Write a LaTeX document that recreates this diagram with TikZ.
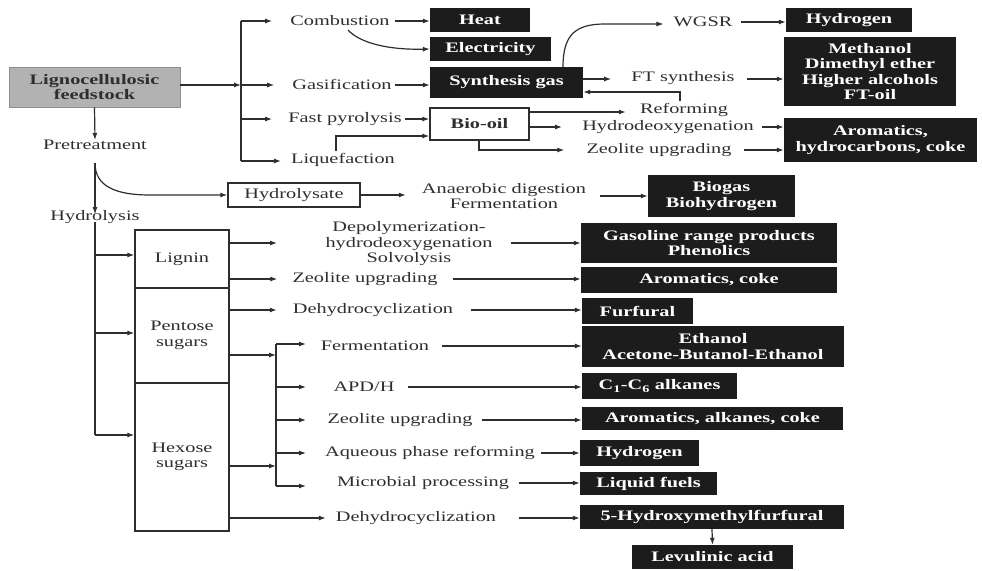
\documentclass[tikz,border=0pt]{standalone}
\usepackage{fontspec}
\setmainfont{Liberation Serif}[FakeStretch=1.4]
\usetikzlibrary{arrows.meta,calc}
\definecolor{ink}{HTML}{2E2E2E}
\definecolor{boxk}{HTML}{1C1C1C}
\definecolor{feedgray}{HTML}{B2B2B2}
\tikzset{
  txtfont/.style={font=\fontsize{14.5}{15.5}\selectfont},
  lbl/.style={txtfont, inner sep=0pt, text=ink, align=center},
  blk/.style={font=\bfseries\fontsize{14.5}{15.5}\selectfont, fill=boxk, draw=none, text=white, align=center, inner sep=0pt},
  wbox/.style={txtfont, draw=ink, line width=1.3pt, fill=white, text=ink, align=center, inner sep=0pt},
  graybox/.style={font=\bfseries\fontsize{14.5}{15.5}\selectfont, fill=feedgray, draw=feedgray!80!black, line width=0.6pt, text=ink, align=center, inner sep=0pt},
  arr/.style={-{Latex[length=7pt,width=5pt]}, line width=1.2pt, draw=ink},
  ln/.style={line width=1.2pt, draw=ink},
}
\begin{document}
\begin{tikzpicture}[x=1pt,y=-1pt]
\useasboundingbox (0,0) rectangle (982,570);

% ---------- boxes ----------
\node[graybox, minimum width=171pt, minimum height=40pt] (feed) at (94.5,87) {Lignocellulosic\\feedstock};
\node[blk, minimum width=100pt, minimum height=24pt] (heat) at (480,20) {Heat};
\node[blk, minimum width=121pt, minimum height=24pt] (elec) at (490.5,49) {Electricity};
\node[blk, minimum width=153pt, minimum height=31pt] (syn) at (506.5,82.5) {Synthesis gas};
\node[wbox, font=\bfseries\fontsize{14.5}{15.5}\selectfont, minimum width=99pt, minimum height=32pt] (biooil) at (479.5,124) {Bio-oil};
\node[blk, minimum width=126pt, minimum height=24pt] (h2a) at (849,20) {Hydrogen};
\node[blk, minimum width=172pt, minimum height=69pt] (meth) at (870,71.5) {Methanol\\Dimethyl ether\\Higher alcohols\\FT-oil};
\node[blk, minimum width=193pt, minimum height=44pt] (aroma1) at (880.5,140) {Aromatics,\\hydrocarbons, coke};
\node[wbox, minimum width=132pt, minimum height=24pt] (hydrolysate) at (294,195) {Hydrolysate};
\node[blk, minimum width=147pt, minimum height=42pt] (biogas) at (721.5,196) {Biogas\\Biohydrogen};
\node[blk, minimum width=256pt, minimum height=40pt] (gasoline) at (709,243) {Gasoline range products\\Phenolics};
\node[blk, minimum width=256pt, minimum height=26pt] (arcoke) at (709,280) {Aromatics, coke};
\node[blk, minimum width=111pt, minimum height=26pt] (furfural) at (637.5,311) {Furfural};
\node[blk, minimum width=262pt, minimum height=41pt] (ethanol) at (713,346.5) {Ethanol\\Acetone-Butanol-Ethanol};
\node[blk, minimum width=155pt, minimum height=26pt] (c1c6) at (659.5,386) {C\textsubscript{1}-C\textsubscript{6} alkanes};
\node[blk, minimum width=261pt, minimum height=23pt] (aralk) at (712.5,418.5) {Aromatics, alkanes, coke};
\node[blk, minimum width=119pt, minimum height=26pt] (h2b) at (639.5,453) {Hydrogen};
\node[blk, minimum width=137pt, minimum height=23pt] (liq) at (648.5,483.5) {Liquid fuels};
\node[blk, minimum width=264pt, minimum height=24pt] (hmf) at (712,517) {5-Hydroxymethylfurfural};
\node[blk, minimum width=161pt, minimum height=24pt] (lev) at (712.5,557) {Levulinic acid};

\node[wbox, minimum width=94pt, minimum height=58pt] (lignin) at (182,259) {Lignin};
\node[wbox, minimum width=94pt, minimum height=95pt] (pentose) at (182,335.5) {Pentose\\sugars};
\node[wbox, minimum width=94pt, minimum height=148pt] (hexose) at (182,457) {Hexose\\sugars};

% ---------- labels ----------
\node[lbl] (pret) at (95,145) {Pretreatment};
\node[lbl] (hydrol) at (95,217) {Hydrolysis};
\node[lbl] (comb) at (340,21) {Combustion};
\node[lbl] (gasif) at (342,84) {Gasification};
\node[lbl] (fastp) at (345,119) {Fast pyrolysis};
\node[lbl] (liqf) at (343,160) {Liquefaction};
\node[lbl] (wgsr) at (703,22) {WGSR};
\node[lbl] (ftsyn) at (683,78) {FT synthesis};
\node[lbl] (reform) at (684,110) {Reforming};
\node[lbl] (hdo) at (668,127) {Hydrodeoxygenation};
\node[lbl] (zeo1) at (659,150) {Zeolite upgrading};
\node[lbl] (anaer) at (504,196) {Anaerobic digestion\\Fermentation};
\node[lbl] (depoly) at (409,244) {Depolymerization-\\hydrodeoxygenation\\Solvolysis};
\node[lbl] (zeo2) at (365,279) {Zeolite upgrading};
\node[lbl] (dehyd1) at (373,310) {Dehydrocyclization};
\node[lbl] (ferm) at (375,346) {Fermentation};
\node[lbl] (apdh) at (364,387) {APD/H};
\node[lbl] (zeo3) at (400,420) {Zeolite upgrading};
\node[lbl] (aqu) at (430,453) {Aqueous phase reforming};
\node[lbl] (micro) at (423,483) {Microbial processing};
\node[lbl] (dehyd2) at (416,518) {Dehydrocyclization};

% ---------- junction coordinates ----------
\coordinate (j1) at (241,85);
\coordinate (t1) at (241,21);
\coordinate (t4) at (241,161);
\coordinate (c0) at (348,30);
\coordinate (p1) at (95,163);
\coordinate (hy0) at (95,435);
\coordinate (lq0) at (336,151);
\coordinate (lq1) at (336,136);
\coordinate (zb0) at (479,150);
\coordinate (rf0) at (680,101);
\coordinate (rf1) at (680,92);
\coordinate (w0) at (563,67);
\coordinate (b0) at (276,344);
\coordinate (b1) at (276,486);

% ---------- top connectors ----------
\draw[arr] (feed.east |- j1) -- (j1);
\draw[ln] (t1) -- (t4);
\draw[arr] (t1) -- ([xshift=-18pt]comb.west);
\draw[arr] (j1) -- ([xshift=-18pt]gasif.west |- j1);
\draw[arr] (j1 |- fastp) -- ([xshift=-16pt]fastp.west);
\draw[arr] (t4) -- ([xshift=-10pt]liqf.west |- t4);

\draw[arr] ([xshift=5pt]comb.east) -- (heat.west |- comb);
\draw[arr] (c0) .. controls (360,43) and (388,50) .. (elec.west);
\draw[arr] ([xshift=3pt]gasif.east |- j1) -- (syn.west |- j1);
\draw[arr] ([xshift=3pt]fastp.east) -- (biooil.west |- fastp);
\draw[arr] (lq0) -- (lq1) -- (biooil.west |- lq1);

\draw[arr] (w0) .. controls (563,35) and (575,24) .. (605,24) -- ([xshift=-10pt]wgsr.west |- 0,24);
\draw[arr] ([xshift=8pt]wgsr.east |- 0,22) -- (h2a.west |- 0,22);
\draw[arr] (syn.east |- 0,79) -- ([xshift=-20pt]ftsyn.west |- 0,79);
\draw[arr] ([xshift=12pt]ftsyn.east |- 0,79) -- (meth.west |- 0,79);
\draw[arr] (rf0) -- (rf1) -- (syn.east |- rf1);
\draw[arr] (biooil.east |- 0,112) -- ([xshift=-14pt]reform.west |- 0,112);
\draw[arr] (biooil.east |- hdo) -- ([xshift=-20pt]hdo.west);
\draw[arr] ([xshift=8pt]hdo.east) -- (aroma1.west |- hdo);
\draw[arr] (biooil.south -| zb0) -- (zb0) -- ([xshift=-22pt]zeo1.west);
\draw[arr] ([xshift=12pt]zeo1.east) -- (aroma1.west |- zeo1);

% ---------- pretreatment / hydrolysis ----------
\draw[arr] (feed.south) -- (pret.north);
\draw[arr] (p1) -- ([yshift=-4pt]hydrol.north);
\draw[arr] (p1) .. controls (95,186) and (115,195) .. (150,195) -- (hydrolysate.west);
\draw[arr] (hydrolysate.east) -- ([xshift=-16pt]anaer.west |- hydrolysate);
\draw[arr] ([xshift=14pt]anaer.east |- biogas) -- (biogas.west);

\draw[ln] ([yshift=2pt]hydrol.south) -- (hy0);
\draw[arr] (hydrol.south |- 0,255) -- (lignin.west |- 0,255);
\draw[arr] (hydrol.south |- 0,333) -- (pentose.west |- 0,333);
\draw[arr] (hy0) -- (hexose.west |- hy0);

% ---------- lignin ----------
\draw[arr] (lignin.east |- 0,243) -- (277,243);
\draw[arr] (lignin.east |- zeo2) -- ([xshift=-15pt]zeo2.west);
\draw[arr] ([xshift=18pt]depoly.east |- 0,243) -- (gasoline.west |- 0,243);
\draw[arr] ([xshift=15pt]zeo2.east) -- (arcoke.west |- zeo2);

% ---------- pentose ----------
\draw[arr] (pentose.east |- dehyd1) -- ([xshift=-16pt]dehyd1.west);
\draw[arr] ([xshift=18pt]dehyd1.east) -- (furfural.west |- dehyd1);
\draw[arr] (pentose.east |- 0,355) -- (b0 |- 0,355);
\draw[ln] (b0) -- (b1);
\draw[arr] (b0) -- (306,344);
\draw[arr] (b0 |- apdh) -- (306,387);
\draw[arr] (b0 |- zeo3) -- (306,420);
\draw[arr] (b0 |- aqu) -- (306,453);
\draw[arr] (b1) -- (306,486);

% ---------- hexose ----------
\draw[arr] (hexose.east |- 0,466) -- (b0 |- 0,466);
\draw[arr] (hexose.east |- dehyd2) -- ([xshift=-10pt]dehyd2.west);

% ---------- to products ----------
\draw[arr] ([xshift=13pt]ferm.east) -- (ethanol.west |- ferm);
\draw[arr] ([xshift=13pt]apdh.east) -- (c1c6.west |- apdh);
\draw[arr] ([xshift=9pt]zeo3.east) -- (aralk.west |- zeo3);
\draw[arr] ([xshift=6pt]aqu.east) -- (h2b.west |- aqu);
\draw[arr] ([xshift=10pt]micro.east) -- (liq.west |- micro);
\draw[arr] ([xshift=23pt]dehyd2.east) -- (hmf.west |- dehyd2);
\draw[arr] (hmf.south) -- (lev.north);
\end{tikzpicture}
\end{document}
